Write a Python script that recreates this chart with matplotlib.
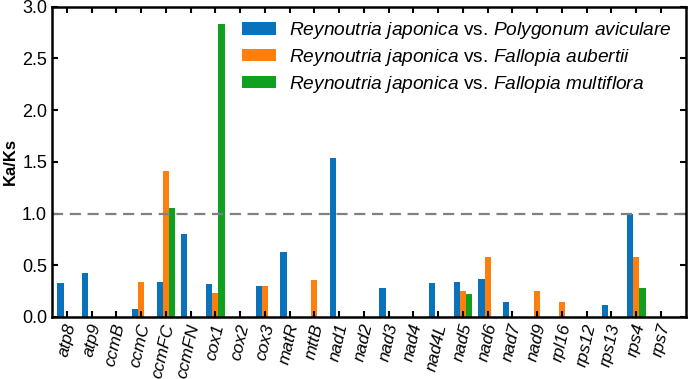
import matplotlib
matplotlib.use("Agg")
import matplotlib.pyplot as plt
import matplotlib.transforms as mtrans
import numpy as np

genes = ["atp8", "atp9", "ccmB", "ccmC", "ccmFC", "ccmFN", "cox1", "cox2", "cox3",
         "matR", "mttB", "nad1", "nad2", "nad3", "nad4", "nad4L", "nad5", "nad6",
         "nad7", "nad9", "rpl16", "rps12", "rps13", "rps4", "rps7"]
polygonum = [0.33, 0.42, 0, 0.08, 0.34, 0.80, 0.32, 0, 0.30, 0.63, 0, 1.54, 0, 0.28,
             0, 0.33, 0.34, 0.37, 0.14, 0, 0, 0, 0.11, 1.00, 0]
aubertii = [0, 0, 0, 0.34, 1.41, 0, 0.23, 0, 0.30, 0, 0.36, 0, 0, 0,
            0, 0, 0.25, 0.58, 0, 0.25, 0.14, 0, 0, 0.58, 0]
multiflora = [0, 0, 0, 0, 1.05, 0, 2.83, 0, 0, 0, 0, 0, 0, 0,
              0, 0, 0.22, 0, 0, 0, 0, 0, 0, 0.28, 0]
labels = [r"$\it{Reynoutria\ japonica}$ vs. $\it{Polygonum\ aviculare}$",
          r"$\it{Reynoutria\ japonica}$ vs. $\it{Fallopia\ aubertii}$",
          r"$\it{Reynoutria\ japonica}$ vs. $\it{Fallopia\ multiflora}$"]
colors = ["#0a72ba", "#ff7f0e", "#10a020"]

plt.rcParams['font.family'] = ['Liberation Sans', 'DejaVu Sans']
plt.rcParams['mathtext.fontset'] = 'custom'
plt.rcParams['mathtext.it'] = 'Liberation Sans:italic'
plt.rcParams['mathtext.rm'] = 'Liberation Sans'

fig = plt.figure(figsize=(6.92, 3.79), dpi=100)
ax = fig.add_axes([0.075, 0.164, 0.916, 0.818])

x = np.arange(len(genes))
w = 0.25
for i, (vals, lab, c) in enumerate(zip([polygonum, aubertii, multiflora], labels, colors)):
    ax.bar(x + (i - 1) * w, vals, width=w, color=c, label=lab)

ax.axhline(1.0, color="gray", linestyle=(0, (5, 3)), linewidth=1.6)

ax.set_xlim(-0.6, 25)
ax.set_ylim(0, 3.0)
ax.set_yticks(np.arange(0, 3.01, 0.5))
ax.set_yticklabels([f"{v:.1f}" for v in np.arange(0, 3.01, 0.5)], fontsize=13)
ax.set_xticks(x)
ax.tick_params(axis="both", direction="in", top=True, right=True, length=4, width=1.5)
ax.tick_params(axis="x", pad=5)
ax.set_xticklabels(genes, rotation=77, ha="right", va="center",
                   rotation_mode="anchor", fontsize=12.5, style="italic")
shift = mtrans.ScaledTranslation(4 / 100, 0, fig.dpi_scale_trans)
for lbl in ax.get_xticklabels():
    lbl.set_transform(lbl.get_transform() + shift)
for s in ax.spines.values():
    s.set_linewidth(1.8)
ax.set_ylabel("Ka/Ks", fontsize=12, fontweight="bold")
ax.yaxis.set_label_coords(-0.054, 0.5)

ax.legend(loc="upper right", frameon=False, fontsize=13.8, handlelength=1.8,
          handleheight=0.6, handletextpad=0.7, borderaxespad=0.3, labelspacing=0.3,
          bbox_to_anchor=(1.0, 1.0))

fig.savefig("out.png", dpi=100)
